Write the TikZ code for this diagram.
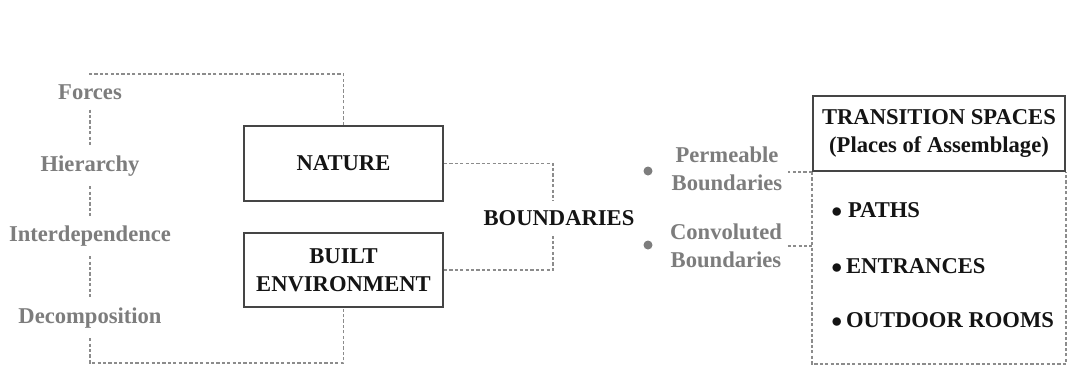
\documentclass[tikz,border=0pt]{standalone}
\usepackage{fontspec}
\setmainfont{Liberation Serif}
\usepackage{tikz}
\usetikzlibrary{positioning}

\begin{document}
\begin{tikzpicture}[x=0.5pt,y=-0.5pt,
  base/.style={font=\fontsize{11.3}{13.8}\selectfont\bfseries,align=center,inner sep=1pt},
  grey label/.style={base,text=ctg,outer sep=4pt},
  main box/.style={base,draw=cbox,line width=1pt,text=ctb,minimum width=99.5pt,minimum height=37.5pt},
  item/.style={base,text=ctb,anchor=west},
  link/.style={draw=cln,line width=0.6pt,dash pattern=on 1.6pt off 1.1pt},
  gdot/.style={circle,fill=ctg,inner sep=0pt,minimum size=4.5pt}]
\definecolor{ctg}{rgb}{0.49,0.49,0.49}
\definecolor{ctb}{rgb}{0.08,0.08,0.08}
\definecolor{cbox}{rgb}{0.27,0.27,0.27}
\definecolor{cln}{rgb}{0.55,0.55,0.55}
\useasboundingbox[fill=white] (0,0) rectangle (1089,372);
%
\node[grey label] (forces) at (90,92) {Forces};
\node[grey label] (hier) at (90,166) {Hierarchy};
\node[grey label] (inter) at (90,236) {Interdependence};
\node[grey label] (decomp) at (90,318) {Decomposition};
\coordinate (tl) at (90,74);
\coordinate (bl) at (90,363);
%
\node[main box] (nature) at (343.5,163.5) {NATURE};
\node[main box,minimum height=37pt] (built) at (343.5,270) {BUILT\\ENVIRONMENT};
\node[base,text=ctb,outer sep=4pt] (bnd) at (559,218) {BOUNDARIES};
%
\node[gdot] (pdot) at (648,171) {};
\node[gdot] (cdot) at (648,245) {};
\node[grey label,outer sep=2pt] (perm) at (727,169) {Permeable\\Boundaries};
\node[grey label,outer sep=2pt] (conv) at (726,246) {Convoluted\\Boundaries};
%
\node[main box,minimum width=126pt] (trans) at (939,133.5) {TRANSITION SPACES\\(Places of Assemblage)};
\coordinate (tbot) at (939,364);
\node[item] (paths) at (829,210) {$\bullet$\ PATHS};
\node[item] (entr) at (829,266) {$\bullet$\,ENTRANCES};
\node[item] (rooms) at (829,320) {$\bullet$\,OUTDOOR ROOMS};
%
\draw[link] (nature.north) |- (tl) -- (forces);
\draw[link] (forces) -- (hier);
\draw[link] (hier) -- (inter);
\draw[link] (inter) -- (decomp);
\draw[link] (decomp) -- (bl) -| (built.south);
\draw[link] (nature.east) -| ([xshift=-3pt]bnd.north);
\draw[link] (built.east) -| ([xshift=-3pt]bnd.south);
\draw[link] (trans.south west) -- (trans.south west -| perm.east);
\draw[link] (conv.east) -- (conv.east -| trans.south west);
\draw[link] (trans.south west) |- (tbot) -| (trans.south east);
%
\end{tikzpicture}
\end{document}
